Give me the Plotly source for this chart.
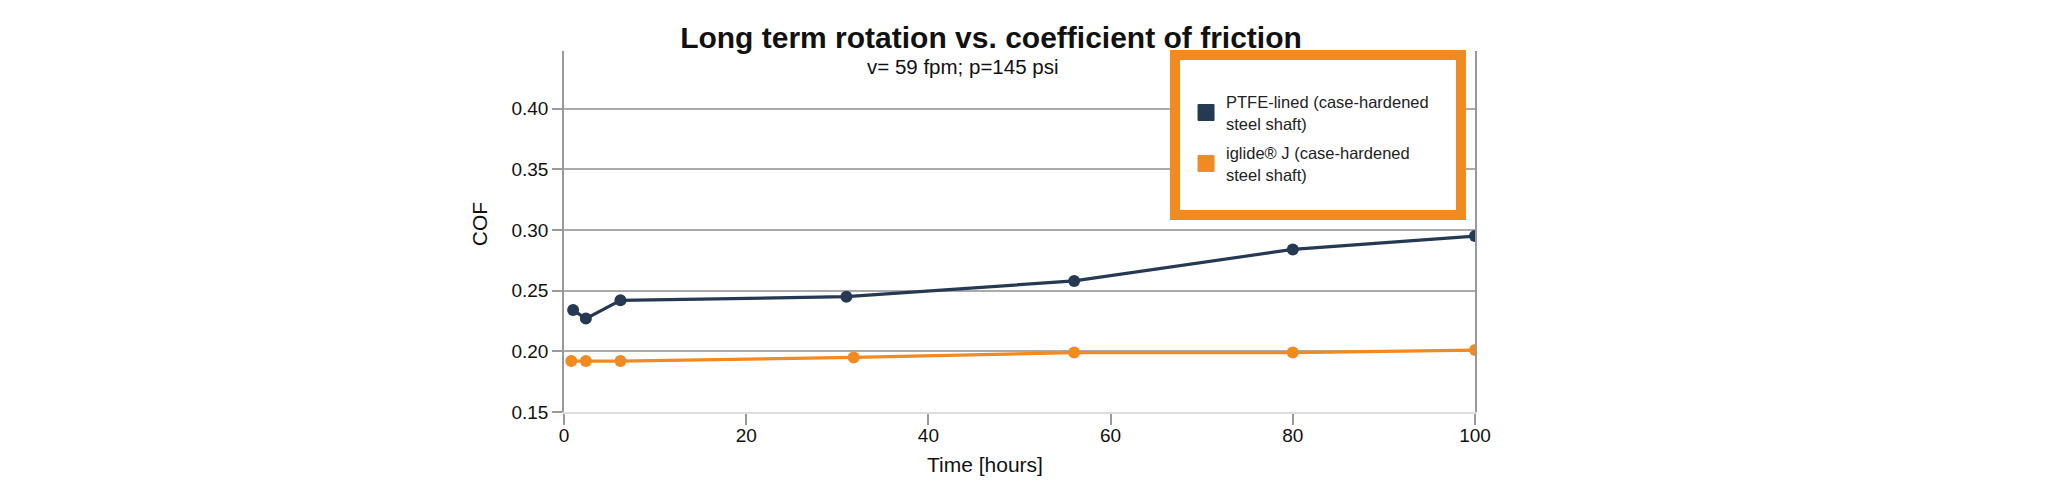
import plotly.graph_objects as go

# hours of rotation and coefficient of friction
ptfe_hours = [1, 2.4, 6.2, 31, 56, 80, 100]
ptfe_cof = [0.234, 0.227, 0.242, 0.245, 0.258, 0.284, 0.295]

iglide_hours = [0.8, 2.4, 6.2, 31.8, 56, 80, 100]
iglide_cof = [0.192, 0.192, 0.192, 0.195, 0.199, 0.199, 0.201]

series_names = ["PTFE-lined (case-hardened<br>steel shaft)",
                "iglide® J (case-hardened<br>steel shaft)"]

x_ticks = [0, 20, 40, 60, 80, 100]
y_ticks = [0.15, 0.20, 0.25, 0.30, 0.35, 0.40]

navy = "#253a52"
orange = "#f28a22"
font = "Liberation Sans, Arial, Helvetica, sans-serif"

fig = go.Figure()

# data lines (legend drawn with separate square markers)
fig.add_trace(go.Scatter(x=ptfe_hours, y=ptfe_cof, mode="lines+markers",
                         line=dict(color=navy, width=3.2),
                         marker=dict(color=navy, size=12),
                         showlegend=False))
fig.add_trace(go.Scatter(x=iglide_hours, y=iglide_cof, mode="lines+markers",
                         line=dict(color=orange, width=3.2),
                         marker=dict(color=orange, size=12),
                         showlegend=False))

# legend entries
for name, col, grp in zip(series_names, [navy, orange], ["a", "b"]):
    fig.add_trace(go.Scatter(x=[None], y=[None], mode="markers", name=name,
                             legendgroup=grp,
                             marker=dict(color=col, size=16, symbol="square",
                                         line=dict(color=col, width=1))))

# orange legend frame
fig.add_shape(type="rect", xref="paper", yref="paper",
              x0=0.6707, x1=0.9846, y0=0.5457, y1=0.9889,
              line=dict(color=orange, width=10), fillcolor="white", layer="above")

# page body has an 8px margin, so the figure is 8px smaller than the window
fig.update_layout(
    width=2040, height=491,
    margin=dict(l=556, r=573, t=43, b=87),
    paper_bgcolor="white", plot_bgcolor="white",
    font=dict(family=font, size=19, color="#111"),
    title=dict(text="<b>Long term rotation vs. coefficient of friction</b>",
               x=0.4687, xref="paper", xanchor="center",
               y=0.939, yanchor="middle", font=dict(size=30, color="#111")),
    legend=dict(x=0.6828, xanchor="left", y=0.907, yanchor="top",
                bgcolor="rgba(0,0,0,0)", font=dict(size=16.5, color="#222"),
                tracegroupgap=5),
    showlegend=True,
)

fig.update_xaxes(range=[0, 100], tickvals=x_ticks, showgrid=False,
                 showline=True, linecolor="#dddddd", linewidth=1.5,
                 ticks="outside", ticklen=11, tickcolor="#999", tickwidth=1.5,
                 ticklabelstandoff=-6, zeroline=False)
fig.update_yaxes(range=[0.15, 0.4475], tickvals=y_ticks, tickformat=".2f",
                 showgrid=True, gridcolor="#aaaaaa", gridwidth=1.5,
                 showline=True, mirror=True, linecolor="#999", linewidth=1.5,
                 ticks="outside", ticklen=10, tickcolor="#999", tickwidth=1.5,
                 zeroline=False)

fig.add_annotation(text="v= 59 fpm; p=145 psi", xref="paper", yref="paper",
                   x=0.437, y=0.9557, xanchor="center", yanchor="middle",
                   showarrow=False, font=dict(size=20.5))
fig.add_annotation(text="Time [hours]", xref="paper", yref="paper",
                   x=0.462, y=-0.1468, xanchor="center", yanchor="middle",
                   showarrow=False, font=dict(size=21))
fig.add_annotation(text="COF", xref="paper", yref="paper", textangle=-90,
                   x=-0.0933, y=0.52, xanchor="center", yanchor="middle",
                   showarrow=False, font=dict(size=21))

fig.write_html("out.html")
